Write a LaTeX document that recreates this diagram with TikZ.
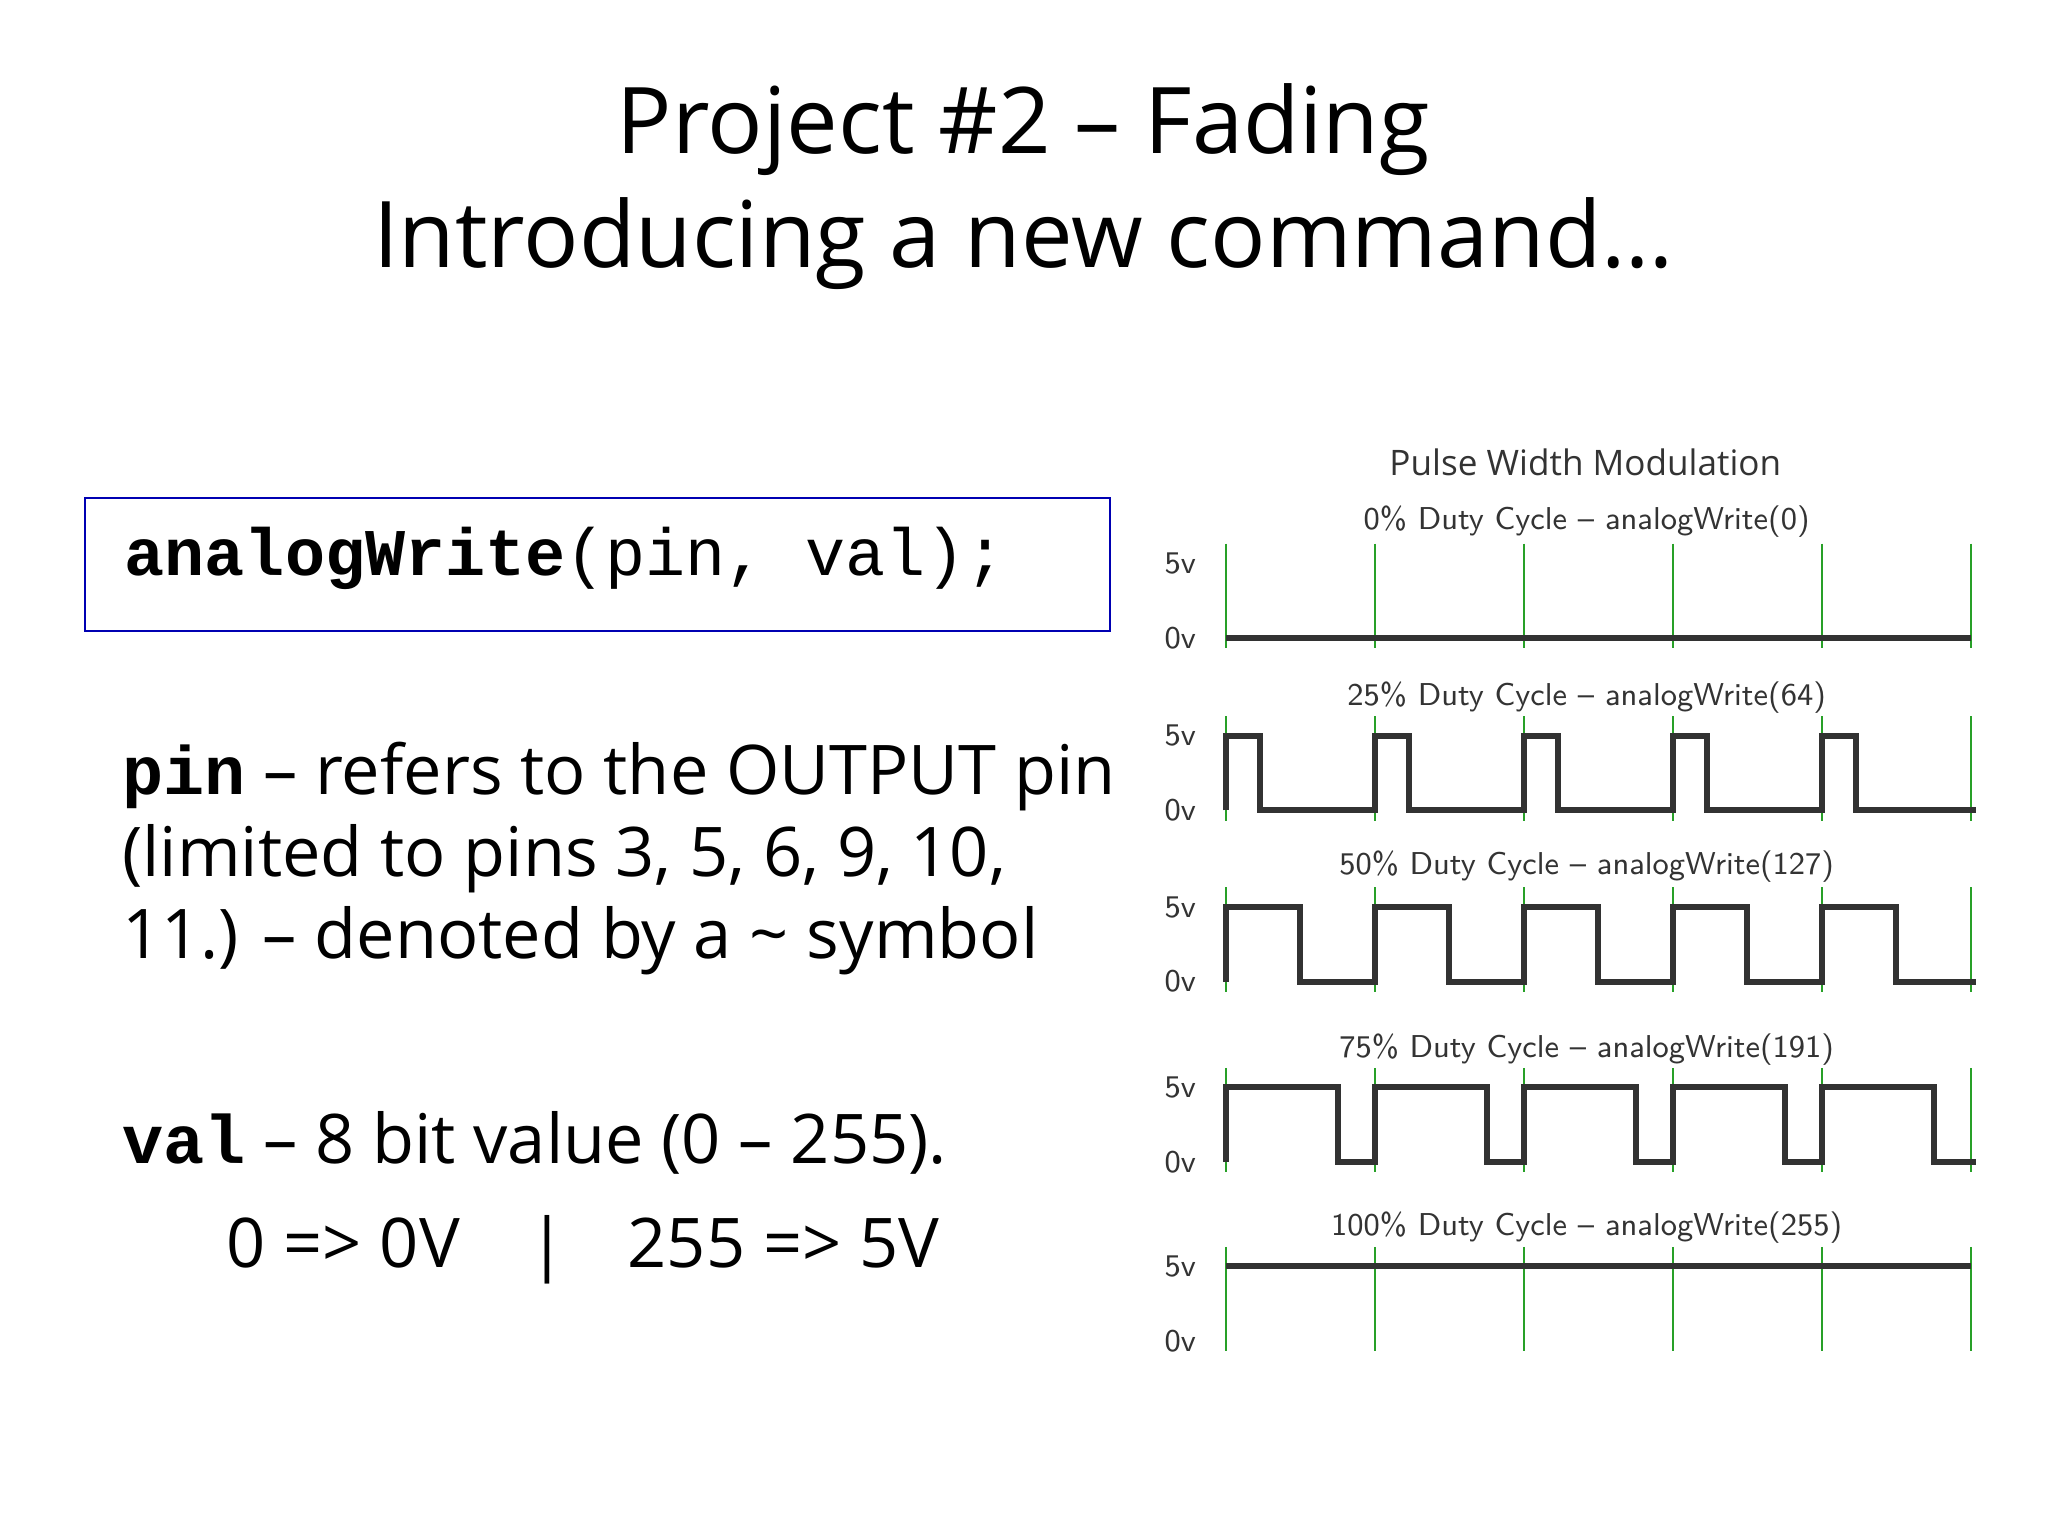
\documentclass[tikz,border=0pt]{standalone}
\usepackage{fontspec}
\setmainfont{Open Sans}
\newfontfamily\codefont{Liberation Mono}
\usetikzlibrary{positioning}
\definecolor{gridgreen}{RGB}{40,160,40}
\definecolor{wave}{RGB}{50,50,50}
\begin{document}
\begin{tikzpicture}[x=0.01307cm,y=-0.01307cm,
    title/.style={font=\fontsize{26.2}{32.5}\selectfont,align=center},
    body/.style={font=\fontsize{19.5}{23.3}\selectfont,anchor=base west,align=left},
    small/.style={font=\fontsize{9}{10}\selectfont\sffamily,text=black!80,inner sep=1pt},
    tick/.style={gridgreen,line width=0.6pt},
    trace/.style={wave,line width=1.7pt,line join=miter}]
\useasboundingbox (0,0) rectangle (1567,1175);

% title
\node[title] (title) at (783,143) {Project \#2 -- Fading\\Introducing a new command\ldots};

% code box
\draw[blue!70!black,line width=0.6pt] (65,381) rectangle (849,483);
\node[anchor=base west,inner sep=0,font=\codefont\fontsize{19}{23}\selectfont] (code) at (95,440)
  {\textbf{analogWrite}(pin, val);};

% explanations
\node[body,inner sep=0] (pin) at (93,733)
  {{\codefont\textbf{pin}} -- refers to the OUTPUT pin\\(limited to pins 3, 5, 6, 9, 10,\\11.) -- denoted by a \textasciitilde{} symbol};
\node[body,inner sep=0] (val) at (93,890) {{\codefont\textbf{val}} -- 8 bit value (0 -- 255).};
\node[body,inner sep=0] (map) at (173,970) {0 => 0V\hspace{1.0em}|\hspace{0.9em}255 => 5V};

% PWM chart
\node[small,font=\fontsize{10}{12}\selectfont] (pwm) at (1213,354) {Pulse Width Modulation};
\foreach \i/\lab/\yl/\yh/\duty in {0/0\% Duty Cycle -- analogWrite(0)/399/431/0,
    1/25\% Duty Cycle -- analogWrite(64)/534/563/0.23,
    2/50\% Duty Cycle -- analogWrite(127)/663/694/0.5,
    3/75\% Duty Cycle -- analogWrite(191)/803/832/0.75,
    4/100\% Duty Cycle -- analogWrite(255)/939/969/1}{
  \pgfmathsetmacro\lo{\yh+57}
  \node[small] (cap\i) at (1214,\yl) {\lab};
  \node[small] (hi\i) at (903,\yh) {5v};
  \node[small] (lo\i) at (903,\lo) {0v};
  \foreach \k in {0,...,5}
    \draw[tick] (938+\k*114,\yh-15) -- (938+\k*114,\lo+8);
  \ifdim\duty pt=0pt
    \draw[trace] (938,\lo) -- (1508,\lo);
  \else\ifdim\duty pt=1pt
    \draw[trace] (938,\yh) -- (1508,\yh);
  \else
    \draw[trace] (938,\lo) \foreach \k in {0,...,4}{
      -- (938+\k*114,\yh) -- (938+\k*114+\duty*114,\yh)
      -- (938+\k*114+\duty*114,\lo) -- (938+\k*114+114,\lo)} -- (1512,\lo);
  \fi\fi
}
\end{tikzpicture}
\end{document}
